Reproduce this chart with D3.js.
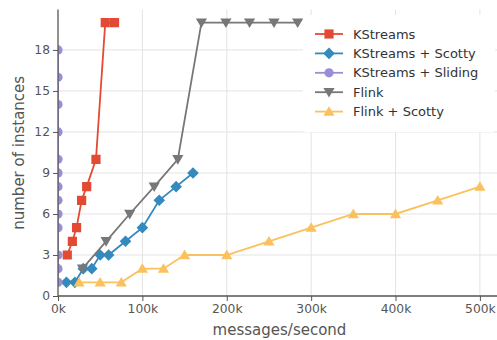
<!DOCTYPE html>
<html>
<head>
<meta charset="utf-8">
<script src="https://cdn.jsdelivr.net/npm/d3@7"></script>
<style>
  html, body { margin: 0; padding: 0; background: #fff; }
  svg { display: block; font-family: "DejaVu Sans", sans-serif; }
</style>
</head>
<body>
<svg id="chart" width="497" height="340"></svg>
<script>
// Instances required per input rate, one pair of arrays per system
const seriesNames = ["KStreams", "KStreams + Scotty", "KStreams + Sliding", "Flink", "Flink + Scotty"];

const kstreamsX = [11000, 17000, 22000, 28000, 34000, 45000, 56000, 67000];
const kstreamsY = [3, 4, 5, 7, 8, 10, 20, 20];

const kstreamsScottyX = [10000, 20000, 30000, 40000, 50000, 60000, 80000, 100000, 120000, 140000, 160000];
const kstreamsScottyY = [1, 1, 2, 2, 3, 3, 4, 5, 7, 8, 9];

const kstreamsSlidingX = [0, 0, 0, 0, 0, 0, 0, 0, 0, 0, 0, 0, 0];
const kstreamsSlidingY = [1, 2, 3, 5, 6, 7, 8, 9, 10, 12, 14, 16, 18];

const flinkX = [29000, 57000, 85000, 114000, 142000, 170000, 199000, 227000, 256000, 284000];
const flinkY = [2, 4, 6, 8, 10, 20, 20, 20, 20, 20];

const flinkScottyX = [25000, 50000, 75000, 100000, 125000, 150000, 200000, 250000, 300000, 350000, 400000, 450000, 500000];
const flinkScottyY = [1, 1, 1, 2, 2, 3, 3, 4, 5, 6, 6, 7, 8];

const xTicks = [0, 100000, 200000, 300000, 400000, 500000];
const yTicks = [0, 3, 6, 9, 12, 15, 18];

const colors = ["#E24A33", "#348ABD", "#988ED5", "#777777", "#FBC15E"];
const markers = ["square", "diamond", "circle", "triangleDown", "triangleUp"];

const series = [
  { xs: kstreamsX, ys: kstreamsY },
  { xs: kstreamsScottyX, ys: kstreamsScottyY },
  { xs: kstreamsSlidingX, ys: kstreamsSlidingY },
  { xs: flinkX, ys: flinkY },
  { xs: flinkScottyX, ys: flinkScottyY }
].map((s, i) => ({
  name: seriesNames[i],
  color: colors[i],
  marker: markers[i],
  points: s.xs.map((x, j) => ({ x, y: s.ys[j] }))
}));

const svg = d3.select("#chart");
const margin = { left: 58, top: 9.6, bottom: 296, right: 501 };

const x = d3.scaleLinear().domain([0, 525000]).range([margin.left, margin.right]);
const y = d3.scaleLinear().domain([0, 20.95]).range([margin.bottom, margin.top]);

// Marker shapes as path strings centred on the origin
function markerPath(kind) {
  switch (kind) {
    case "square": { const h = 4.6; return `M${-h},${-h}H${h}V${h}H${-h}Z`; }
    case "diamond": { const h = 5.8; return `M0,${-h}L${h},0L0,${h}L${-h},0Z`; }
    case "circle": { const r = 4.6; return `M${r},0A${r},${r} 0 1,1 ${-r},0A${r},${r} 0 1,1 ${r},0Z`; }
    case "triangleDown": { const w = 5.6, t = 4.2, b = 5.4; return `M${-w},${-t}L${w},${-t}L0,${b}Z`; }
    case "triangleUp": { const w = 5.6, t = 4.2, b = 5.4; return `M${-w},${t}L${w},${t}L0,${-b}Z`; }
  }
}

// Grid
const grid = svg.append("g").attr("stroke", "#e3e3e3").attr("stroke-width", 1);
grid.selectAll("line.gx").data(xTicks.slice(1)).join("line")
  .attr("x1", d => x(d)).attr("x2", d => x(d))
  .attr("y1", margin.top).attr("y2", margin.bottom);
grid.selectAll("line.gy").data(yTicks.slice(1)).join("line")
  .attr("x1", margin.left).attr("x2", margin.right)
  .attr("y1", d => y(d)).attr("y2", d => y(d));

// Clip marks to the plotting area
svg.append("clipPath").attr("id", "plotClip")
  .append("rect")
  .attr("x", margin.left).attr("y", margin.top)
  .attr("width", margin.right - margin.left)
  .attr("height", margin.bottom - margin.top);

const plot = svg.append("g").attr("clip-path", "url(#plotClip)");
const line = d3.line().x(d => x(d.x)).y(d => y(d.y));

series.forEach(s => {
  const g = plot.append("g");
  g.append("path")
    .attr("d", line(s.points))
    .attr("fill", "none")
    .attr("stroke", s.color)
    .attr("stroke-width", 1.8);
  g.selectAll("path.m").data(s.points).join("path")
    .attr("class", "m")
    .attr("d", markerPath(s.marker))
    .attr("transform", d => `translate(${x(d.x)},${y(d.y)})`)
    .attr("fill", s.color);
});

// Axes
const xAxis = d3.axisBottom(x).tickValues(xTicks)
  .tickFormat(d => (d / 1000) + "k").tickSize(5).tickPadding(3);
const yAxis = d3.axisLeft(y).tickValues(yTicks).tickSize(5).tickPadding(3);

const gx = svg.append("g").attr("transform", `translate(0,${margin.bottom})`).call(xAxis);
const gy = svg.append("g").attr("transform", `translate(${margin.left},0)`).call(yAxis);

[gx, gy].forEach(g => {
  g.select(".domain").attr("stroke", "#555").attr("stroke-width", 1.3);
  g.selectAll(".tick line").attr("stroke", "#555").attr("stroke-width", 1);
  g.selectAll(".tick text").attr("fill", "#555").style("font-size", "12.3px")
    .style("font-family", "DejaVu Sans, sans-serif");
});
gx.select(".domain").attr("d", `M${margin.left},0H${margin.right}`);
gy.select(".domain").attr("d", `M0,${margin.bottom}V${margin.top}`);

// Axis titles
svg.append("text")
  .attr("x", (margin.left + margin.right) / 2).attr("y", 335)
  .attr("text-anchor", "middle").attr("fill", "#555")
  .style("font-size", "15px")
  .text("messages/second");

svg.append("text")
  .attr("transform", `translate(24,${(margin.top + margin.bottom) / 2}) rotate(-90)`)
  .attr("text-anchor", "middle").attr("fill", "#555")
  .style("font-size", "15px")
  .text("number of instances");

// Legend
const legend = svg.append("g");
legend.append("rect")
  .attr("x", 303).attr("y", 15).attr("width", 192).attr("height", 117)
  .attr("rx", 3).attr("fill", "#fff");

series.forEach((s, i) => {
  const ly = 34 + i * 19.4;
  const row = legend.append("g");
  row.append("line")
    .attr("x1", 315).attr("x2", 343).attr("y1", ly).attr("y2", ly)
    .attr("stroke", s.color).attr("stroke-width", 1.8);
  row.append("path")
    .attr("d", markerPath(s.marker))
    .attr("transform", `translate(329,${ly})`)
    .attr("fill", s.color);
  row.append("text")
    .attr("x", 353).attr("y", ly).attr("dy", "0.36em")
    .attr("fill", "#333")
    .style("font-size", "13px")
    .text(s.name);
});
</script>
</body>
</html>
